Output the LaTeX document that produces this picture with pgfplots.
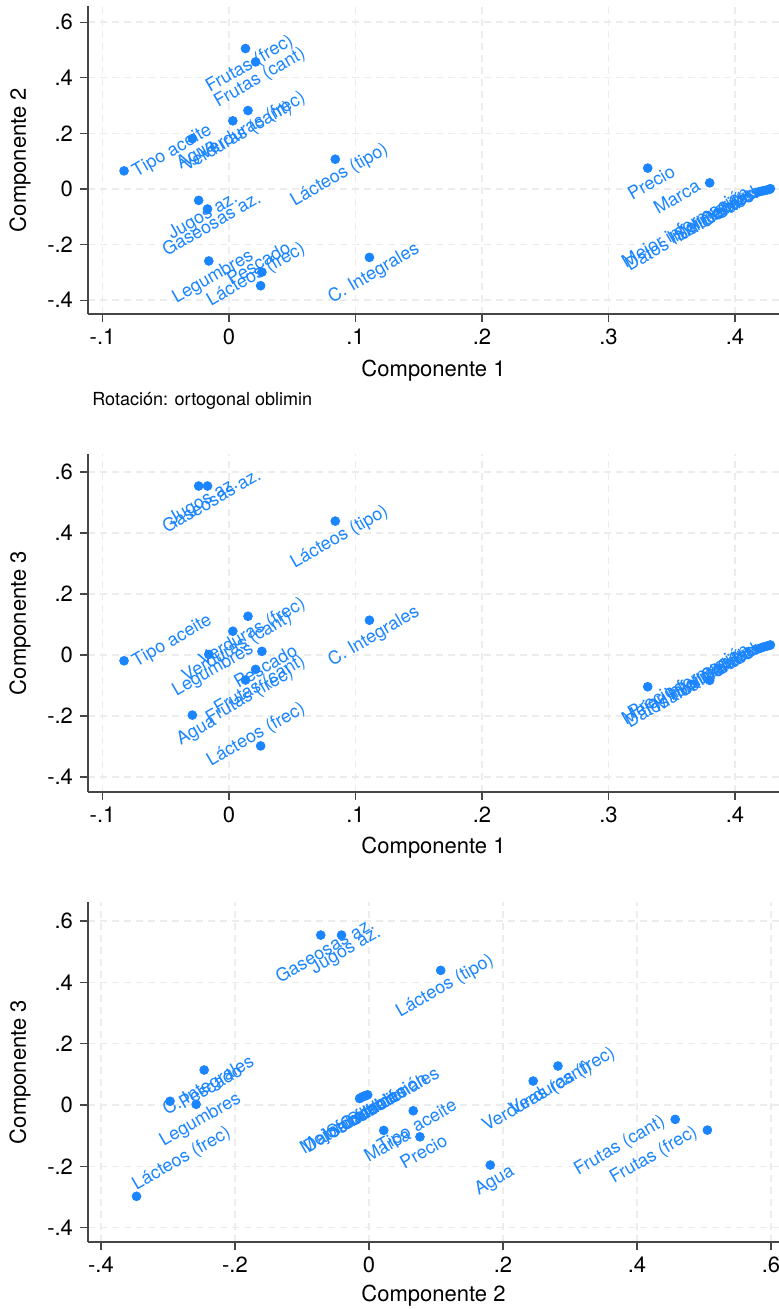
\documentclass[border=0pt]{standalone}
\usepackage{fontspec}
\setmainfont{TeX Gyre Heros}
\usepackage{pgfplots}
\usepackage{pgfplotstable}
\pgfplotsset{compat=1.18}
\definecolor{stblue}{RGB}{26,133,255}
\definecolor{gridc}{RGB}{236,236,236}
\definecolor{axc}{RGB}{70,70,70}

\pgfplotsset{
  stata/.style={
    scale only axis, anchor=south west, width=345.5pt,
    axis x line*=bottom, axis y line*=left,
    axis line style={axc, line width=0.6pt},
    tick align=outside, major tick length=4pt,
    tick style={axc, line width=0.6pt},
    grid=major,
    major grid style={gridc, dash pattern=on 3.5pt off 2.5pt, line width=0.7pt},
    ticklabel style={font=\fontsize{11}{12}\selectfont, text=black},
    label style={font=\fontsize{11}{12}\selectfont},
    clip=false,
    ylabel style={at={(axis description cs:-0.0984,0.5)}, anchor=center},
    ytick={-0.4,-0.2,0,0.2,0.4,0.6},
    yticklabels={-.4,-.2,0,.2,.4,.6},
  },
  lab/.style={
    only marks, mark=*, mark size=2.2pt, color=stblue,
    point meta=explicit symbolic,
    nodes near coords={\pgfplotspointmeta},
    every node near coord/.append style={inner sep=0pt, font=\fontsize{9}{10}\selectfont,
      text=stblue, #1, rotate=30},
  },
  posN/.style={lab={anchor=north, yshift=-4.2pt}},
  posS/.style={lab={anchor=south, yshift=1.5pt}},
  posW/.style={lab={anchor=west, xshift=5pt, yshift=-1.3pt}},
  posE/.style={lab={anchor=east, xshift=-5.5pt, yshift=-0.5pt}},
  posSW/.style={lab={anchor=south west, xshift=1pt, yshift=1pt}},
}

\begin{document}
\begin{tikzpicture}
\useasboundingbox (0,0) rectangle (389.5pt,654.5pt);

% ---------------- Panel 1: Componente 1 vs Componente 2
\begin{axis}[stata, at={(44pt,497.5pt)}, height=154pt,
  xmin=-0.1115, xmax=0.4348, ymin=-0.4496, ymax=0.658,
  xtick={-0.1,0,0.1,0.2,0.3,0.4}, xticklabels={-.1,0,.1,.2,.3,.4},
  xlabel={Componente 1}, ylabel={Componente 2},
  xlabel style={at={(axis description cs:0.5,-0.185)}, anchor=center}]
\addplot[posN] table[col sep=comma, x=x, y=y, meta=lab] {
x,y,lab
0.013,0.505,Frutas (frec)
0.021,0.457,Frutas (cant)
0.015,0.282,Verduras (frec)
0.003,0.245,Verduras (cant)
-0.029,0.181,Agua
0.084,0.107,Lácteos (tipo)
-0.024,-0.041,Jugos az.
-0.017,-0.072,Gaseosas az.
-0.016,-0.259,Legumbres
0.111,-0.246,C. Integrales
0.331,0.075,Precio
};
\addplot[posW] table[col sep=comma, x=x, y=y, meta=lab] {
x,y,lab
-0.083,0.065,Tipo aceite
};
\addplot[posS] table[col sep=comma, x=x, y=y, meta=lab] {
x,y,lab
0.026,-0.299,Pescado
0.025,-0.348,Lácteos (frec)
};
\addplot[posE] table[col sep=comma, x=x, y=y, meta=lab] {
x,y,lab
0.380,0.022,Marca
0.419,-0.010,Mejor información
0.421,-0.008,Información
0.423,-0.006,Saludables
0.425,-0.004,Calidad
0.427,-0.002,Sabor
0.428,0.001,Datos nutricionales
};
\end{axis}

\node[anchor=west, inner sep=0pt, font=\fontsize{9}{10}\selectfont] at (46pt,454pt) {Rotación: ortogonal oblimin};

% ---------------- Panel 2: Componente 1 vs Componente 3
\begin{axis}[stata, at={(44pt,258.5pt)}, height=169pt,
  xmin=-0.1115, xmax=0.4348, ymin=-0.449, ymax=0.659,
  xtick={-0.1,0,0.1,0.2,0.3,0.4}, xticklabels={-.1,0,.1,.2,.3,.4},
  xlabel={Componente 1}, ylabel={Componente 3},
  xlabel style={at={(axis description cs:0.5,-0.166)}, anchor=center}]
\addplot[posN] table[col sep=comma, x=x, y=y, meta=lab] {
x,y,lab
0.013,-0.082,Frutas (frec)
0.021,-0.047,Frutas (cant)
0.015,0.127,Verduras (frec)
0.003,0.078,Verduras (cant)
-0.029,-0.197,Agua
0.084,0.439,Lácteos (tipo)
-0.024,0.554,Jugos az.
-0.017,0.554,Gaseosas az.
-0.016,0.002,Legumbres
0.026,0.012,Pescado
0.111,0.114,C. Integrales
0.331,-0.104,Precio
};
\addplot[posW] table[col sep=comma, x=x, y=y, meta=lab] {
x,y,lab
-0.083,-0.019,Tipo aceite
};
\addplot[posS] table[col sep=comma, x=x, y=y, meta=lab] {
x,y,lab
0.025,-0.298,Lácteos (frec)
};
\addplot[posE] table[col sep=comma, x=x, y=y, meta=lab] {
x,y,lab
0.380,-0.083,Marca
0.419,0.021,Mejor información
0.421,0.024,Información
0.423,0.027,Saludables
0.425,0.029,Calidad
0.427,0.031,Sabor
0.428,0.033,Datos nutricionales
};
\end{axis}

% ---------------- Panel 3: Componente 2 vs Componente 3
\begin{axis}[stata, at={(44pt,33.5pt)}, height=170pt,
  xmin=-0.4194, xmax=0.6119, ymin=-0.447, ymax=0.662,
  xtick={-0.4,-0.2,0,0.2,0.4,0.6}, xticklabels={-.4,-.2,0,.2,.4,.6},
  xlabel={Componente 2}, ylabel={Componente 3},
  xlabel style={at={(axis description cs:0.5,-0.159)}, anchor=center}]
\addplot[posN] table[col sep=comma, x=x, y=y, meta=lab] {
x,y,lab
0.282,0.127,Verduras (frec)
0.245,0.078,Verduras (cant)
0.181,-0.196,Agua
0.066,-0.019,Tipo aceite
0.107,0.439,Lácteos (tipo)
-0.041,0.554,Jugos az.
-0.072,0.554,Gaseosas az.
-0.258,0.002,Legumbres
-0.246,0.114,C. Integrales
0.076,-0.104,Precio
0.022,-0.083,Marca
-0.014,0.021,Mejor información
-0.012,0.024,Información
-0.009,0.027,Saludables
-0.007,0.029,Calidad
-0.004,0.031,Sabor
-0.002,0.033,Datos nutricionales
};
\addplot[posE] table[col sep=comma, x=x, y=y, meta=lab] {
x,y,lab
0.505,-0.082,Frutas (frec)
0.457,-0.047,Frutas (cant)
};
\addplot[posW] table[col sep=comma, x=x, y=y, meta=lab] {
x,y,lab
-0.297,0.012,Pescado
};
\addplot[posSW] table[col sep=comma, x=x, y=y, meta=lab] {
x,y,lab
-0.347,-0.298,Lácteos (frec)
};
\end{axis}
\end{tikzpicture}
\end{document}
